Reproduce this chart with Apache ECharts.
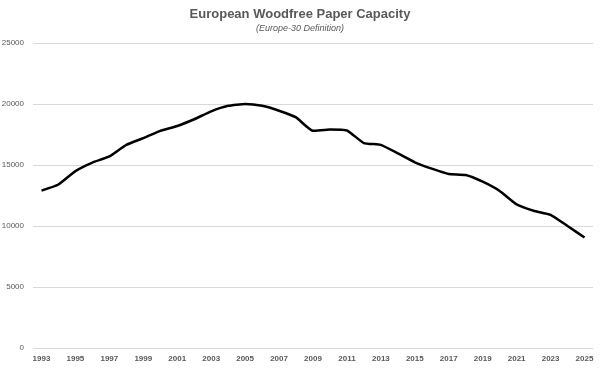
<!DOCTYPE html>
<html>
<head>
<meta charset="utf-8">
<script src="https://cdn.jsdelivr.net/npm/echarts@6/dist/echarts.min.js"></script>
<style>
html,body{margin:0;padding:0;background:#fff;}
#chart{width:600px;height:373px;}
</style>
</head>
<body>
<div id="chart"></div>
<script>
const years = ['1993','1994','1995','1996','1997','1998','1999','2000','2001','2002','2003','2004','2005','2006','2007','2008','2009','2010','2011','2012','2013','2014','2015','2016','2017','2018','2019','2020','2021','2022','2023','2024','2025'];
const capacity = [12900,13400,14500,15200,15700,16650,17200,17800,18200,18750,19400,19850,20000,19850,19450,18900,17800,17920,17830,16800,16650,15950,15220,14700,14270,14180,13630,12870,11770,11250,10920,10000,9050];
const titleText = 'European Woodfree Paper Capacity';
const subtitleText = '(Europe-30 Definition)';

const chart = echarts.init(document.getElementById('chart'), null, {renderer:'canvas'});
chart.setOption({
  animation: false,
  backgroundColor: '#ffffff',
  title: {
    text: titleText,
    subtext: subtitleText,
    left: 'center',
    top: 3,
    itemGap: 3,
    textStyle: {fontFamily: 'Liberation Sans', fontWeight: 'bold', fontSize: 13, color: '#595959'},
    subtextStyle: {fontFamily: 'Liberation Sans', fontStyle: 'italic', fontSize: 9, color: '#595959'}
  },
  grid: {left: 33, right: 7, top: 43, bottom: 25, containLabel: false, outerBoundsMode: 'none'},
  xAxis: {
    type: 'category',
    data: years,
    boundaryGap: true,
    axisLine: {show: false},
    axisTick: {show: false},
    axisLabel: {interval: 1, fontFamily: 'Liberation Sans', fontSize: 8, fontWeight: 'bold', color: '#595959', margin: 7}
  },
  yAxis: {
    type: 'value',
    min: 0, max: 25000, interval: 5000,
    axisLine: {show: false},
    axisTick: {show: false},
    axisLabel: {fontFamily: 'Liberation Sans', fontSize: 8, color: '#595959', margin: 9, formatter: function (v) { return String(v); }},
    splitLine: {lineStyle: {color: '#d9d9d9', width: 1}}
  },
  series: [{
    type: 'line',
    data: capacity,
    showSymbol: false,
    smooth: 0.15,
    lineStyle: {color: '#000000', width: 2.5},
    itemStyle: {color: '#000000'}
  }]
});
</script>
</body>
</html>
